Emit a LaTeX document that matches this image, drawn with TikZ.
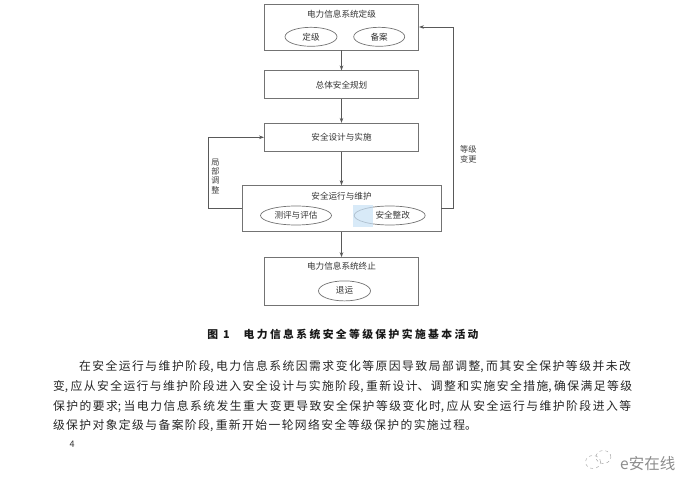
\documentclass[tikz,border=0pt]{standalone}
\usepackage{fontspec}
\setmainfont{Noto Sans CJK SC}
\newfontfamily\captionfont[LetterSpace=22]{Noto Sans CJK SC}
\usepackage{xcolor}
\usetikzlibrary{positioning, arrows.meta, shapes.geometric}
\definecolor{patchblue}{RGB}{200,225,245}
\newcommand{\bodycomma}{,\hspace{2.5pt}}
\XeTeXlinebreaklocale "zh"
\XeTeXlinebreakskip=1.4pt plus 1pt minus 1pt

\begin{document}
\begin{tikzpicture}[
        x=1pt, y=-1pt,
        box/.style={
            draw=black!55,
            line width=0.9pt,
            rectangle,
            inner sep=0pt,
            minimum width=154pt,
            align=center,
            text=black!80,
            font=\fontsize{8.6pt}{10pt}\selectfont
        },
        boxtitle/.style={
            inner sep=0pt,
            minimum height=10pt,
            text=black!80,
            font=\fontsize{8.6pt}{10pt}\selectfont
        },
        oval/.style={
            draw=black!55,
            line width=0.7pt,
            ellipse,
            inner sep=0pt,
            minimum height=19pt,
            text=black!80,
            font=\fontsize{8.6pt}{10pt}\selectfont
        },
        sidelabel/.style={
            inner sep=0pt,
            align=center,
            text=black!75,
            font=\fontsize{8.2pt}{9.4pt}\selectfont
        },
        arrow/.style={-{Stealth[length=5pt, width=3.6pt]}, draw=black!65, line width=0.8pt}
    ]

        \useasboundingbox (0,0) rectangle (700,494);

        \node[box, minimum height=46pt] (grading) at (341.5,27) {};
        \node[box, minimum height=28pt, below=20pt of grading] (planning) {总体安全规划};
        \node[box, minimum height=28pt, below=23.5pt of planning] (design) {安全设计与实施};
        \node[box, minimum height=46pt, minimum width=199pt, below=33.5pt of design] (operation) {};
        \node[box, minimum height=48pt, below=25pt of operation] (termination) {};

        \node[boxtitle, below=5pt of grading.north] (gradingtitle) {电力信息系统定级};
        \node[oval, minimum width=52pt, below=8pt of gradingtitle, xshift=-30.5pt] (level) {定级};
        \node[oval, minimum width=51pt, right=16pt of level] (filing) {备案};

        \node[boxtitle, below=6pt of operation.north] (operationtitle) {安全运行与维护};
        \node[oval, minimum width=71pt, below=4pt of operationtitle, xshift=-45.5pt] (assess) {测评与评估};
        \node[oval, minimum width=71pt, right=22pt of assess] (rectify) {\hspace{6pt}安全整改};

        \node[boxtitle, below=4pt of termination.north] (terminationtitle) {电力信息系统终止};
        \node[oval, minimum width=52pt, minimum height=20pt, below=9pt of terminationtitle, xshift=3pt] (retire) {退运};

        \node[fill=patchblue, opacity=0.7, inner sep=0pt, minimum width=20pt, minimum height=22pt,
            anchor=north west] (patch) at (353,205) {};

        \coordinate[left=33pt of operation.west] (leftbend);
        \coordinate[right=11.5pt of operation.east] (rightbend);

        \draw[arrow] (grading) -- (planning);
        \draw[arrow] (planning) -- (design);
        \draw[arrow] (design) -- (operation);
        \draw[arrow] (operation) -- (termination);
        \draw[arrow] (operation.west) -- (leftbend) |- (design.west);
        \draw[arrow] (operation.east) -- (rightbend) |- (grading.east);

        \node[sidelabel, right=2.5pt of leftbend, yshift=32.5pt] (locallabel) {局\\部\\调\\整};
        \node[sidelabel, right=7pt of rightbend, yshift=54.5pt] (changelabel) {等级\\变更};

        \node[inner sep=0pt, minimum height=12pt, below=22pt of termination, xshift=1.5pt,
            text=black!90, font=\fontsize{10.8pt}{12pt}\selectfont\captionfont\bfseries] (caption)
            {图 1\hspace{14pt}电力信息系统安全等级保护实施基本活动};

        \node[inner sep=0pt, text width=580pt, below=20pt of caption, text=black!85,
            font=\fontsize{11.8pt}{19.7pt}\selectfont] (body) {%
            \hspace*{26pt}在安全运行与维护阶段\bodycomma 电力信息系统因需求变化等原因导致局部调整\bodycomma 而其安全保护等级并未改\linebreak
            变\bodycomma 应从安全运行与维护阶段进入安全设计与实施阶段\bodycomma 重新设计、调整和实施安全措施\bodycomma 确保满足等级\linebreak
            保护的要求;\hspace{2.5pt}当电力信息系统发生重大变更导致安全保护等级变化时\bodycomma 应从安全运行与维护阶段进入等\linebreak
            级保护对象定级与备案阶段\bodycomma 重新开始一轮网络安全等级保护的实施过程。\par};

        \node[inner sep=0pt, text=black!80, font=\fontsize{9pt}{10pt}\selectfont] (pagenumber) at (72,444) {4};

        \node[draw=black!40, dashed, line width=0.4pt, ellipse, minimum width=15pt, minimum height=13pt,
            inner sep=0pt] (bubbleleft) at (593,462) {};
        \node[draw=black!40, dashed, line width=0.4pt, ellipse, minimum width=15pt, minimum height=13pt,
            inner sep=0pt, right=-5pt of bubbleleft, yshift=5pt] (bubbleright) {};
        \node[inner sep=0pt, text=black!45, anchor=west, font=\fontsize{15.5pt}{17pt}\selectfont] (watermark)
            at (620,464) {e安在线};

    \end{tikzpicture}
\end{document}
